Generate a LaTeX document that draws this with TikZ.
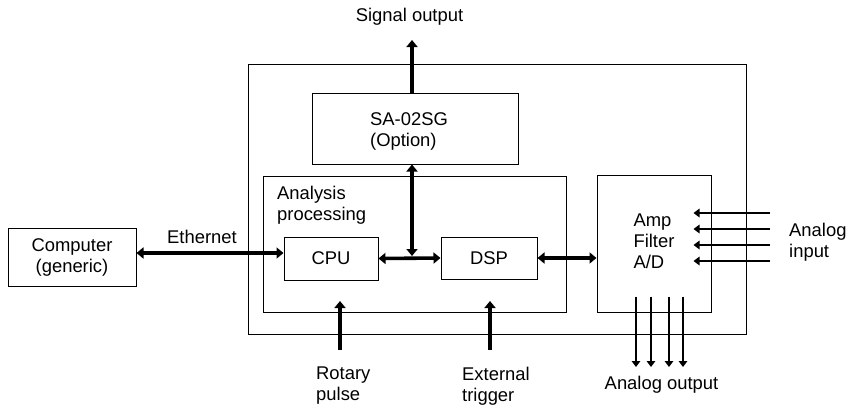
\documentclass[tikz,border=0pt]{standalone}
\usepackage{fontspec}
\setmainfont{Liberation Sans}
\usetikzlibrary{positioning,arrows.meta}

\begin{document}
\begin{tikzpicture}[x=1pt, y=-1pt, font=\fontsize{18.4}{21}\selectfont,
    box/.style={draw, line width=1pt, inner sep=0pt, align=center},
    txt/.style={inner sep=0pt, align=left, anchor=west},
    bus/.style={line width=3.6pt, {Triangle[length=7pt,width=11pt]}-{Triangle[length=7pt,width=11pt]}},
    sig/.style={line width=3.6pt, -{Triangle[length=7pt,width=11pt]}},
    wire/.style={line width=2.8pt, -{Triangle[length=6pt,width=8.5pt]}}]
    \useasboundingbox (0,0) rectangle (856,405);
    % blocks
    \node[box, minimum width=498pt, minimum height=270pt] (unit) at (497,199) {};
    \node[box, minimum width=206pt, minimum height=71pt] (sa) at (415,128.5) {};
    \node[inner sep=0pt, align=left] (satext) at (409,131) {SA-02SG\\(Option)};
    \node[box, minimum width=303pt, minimum height=136pt] (ana) at (414.5,244) {};
    \node[txt] (analabel) at (277,205) {Analysis\\processing};
    \node[box, minimum width=94pt, minimum height=43pt] (cpu) at (331,258.5) {CPU};
    \node[box, minimum width=96pt, minimum height=42pt] (dsp) at (489,258) {DSP};
    \node[box, minimum width=114pt, minimum height=137pt] (amp) at (654,243.5)
      {\begin{tabular}{@{}l@{}}Amp\\Filter\\A/D\end{tabular}};
    \node[box, minimum width=128pt, minimum height=58pt] (pc) at (72,257)
      {Computer\\(generic)};
    % labels
    \node (sigout) at (409.5,17) {Signal output};
    \node (ethernet) at (202,237) {Ethernet};
    \node[txt] (rotary) at (316,386) {Rotary\\pulse};
    \node[txt] (trigger) at (462,386) {External\\trigger};
    \node (aout) at (661.5,385) {Analog output};
    \node[txt] (ain) at (789,242) {Analog\\input};
    % free ends
    \coordinate (tap) at (412,256);
    \coordinate (sigtop) at (412,40);
    \coordinate (rot) at (340,350);
    \coordinate (trig) at (490,350);
    % connectors
    \draw[bus] ([yshift=4pt]pc.east) -- ([yshift=4pt]pc.east -| cpu.west);
    \draw[bus] (cpu.east) -- (dsp.west);
    \draw[bus] (sa.south -| tap) -- (tap);
    \draw[sig] (sa.north -| tap) -- (sigtop);
    \draw[bus] (dsp.east) -- (dsp.east -| amp.west);
    \draw[sig] (rot) -- ++(0,-49);
    \draw[sig] (trig) -- ++(0,-49);
    \foreach \y in {213,229,245,261}
      \draw[wire] (770,\y) -- ([xshift=-18pt]amp.east |- 0,\y);
    \foreach \x in {636,651,669,683}
      \draw[wire] ([yshift=16pt]amp.south -| \x,0) -- (\x,367);
  \end{tikzpicture}
\end{document}
